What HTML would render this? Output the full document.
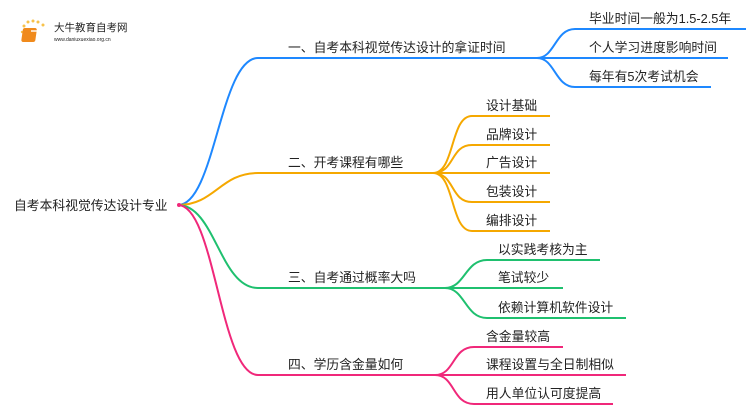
<!DOCTYPE html>
<html><head><meta charset="utf-8"><style>
body{margin:0;background:#fff;width:750px;height:410px;overflow:hidden}
svg text{font-family:"Liberation Sans","Noto Sans CJK SC",sans-serif;fill:#222}
</style></head><body>
<svg width="750" height="410" viewBox="0 0 750 410" xmlns="http://www.w3.org/2000/svg">
<g fill="#f7c24a"><circle cx="24" cy="26" r="1.5"/><circle cx="28" cy="22" r="1.5"/><circle cx="33" cy="21" r="1.5"/><circle cx="38" cy="22" r="1.5"/><circle cx="43" cy="25" r="1.5"/><circle cx="22" cy="32" r="1.2"/><circle cx="23" cy="38" r="1.2"/></g>
<rect x="27" y="28" width="14" height="14" rx="2" fill="#f08a1c" transform="skewX(-8)"/>
<rect x="31" y="30" width="8" height="2" fill="#fff" opacity=".7"/>
<text x="54" y="31" font-size="10.5">大牛教育自考网</text>
<text x="54" y="41" font-size="5" fill="#666">www.daniuxuexiao.org.cn</text>
<text x="14" y="210" font-size="12.8">自考本科视觉传达设计专业</text>
<g fill="none" stroke-width="2">
<path d="M178 205 C215 205 220 58 258 58 L537 58" stroke="#1e88ff"/>
<path d="M537 58 C555 58 555 29 575 29 L746 29 M537 58 L728 58 M537 58 C555 58 555 87 575 87 L711 87" stroke="#1e88ff"/>
<path d="M178 205 C215 205 220 173 258 173 L433 173" stroke="#f5a800"/>
<path d="M433 173 C455 173 450 116 472 116 L550 116 M433 173 C455 173 450 145 472 145 L550 145 M433 173 L550 173 M433 173 C455 173 450 202 472 202 L550 202 M433 173 C455 173 450 231 472 231 L550 231" stroke="#f5a800"/>
<path d="M178 205 C215 205 220 288 258 288 L445 288" stroke="#1fc06f"/>
<path d="M445 288 C465 288 465 260 487 260 L600 260 M445 288 L563 288 M445 288 C465 288 465 318 487 318 L626 318" stroke="#1fc06f"/>
<path d="M178 205 C215 205 220 375 258 375 L435 375" stroke="#f0287a"/>
<path d="M435 375 C455 375 452 347 474 347 L563 347 M435 375 L626 375 M435 375 C455 375 452 404 474 404 L613 404" stroke="#f0287a"/>
</g>
<circle cx="179" cy="205" r="2" fill="#f0287a"/>
<g font-size="12.8">
<text x="288" y="52">一、自考本科视觉传达设计的拿证时间</text>
<text x="589" y="23">毕业时间一般为1.5-2.5年</text>
<text x="589" y="52">个人学习进度影响时间</text>
<text x="589" y="81">每年有5次考试机会</text>
<text x="288" y="167">二、开考课程有哪些</text>
<text x="486" y="110">设计基础</text>
<text x="486" y="139">品牌设计</text>
<text x="486" y="167">广告设计</text>
<text x="486" y="196">包装设计</text>
<text x="486" y="225">编排设计</text>
<text x="288" y="282">三、自考通过概率大吗</text>
<text x="498" y="254">以实践考核为主</text>
<text x="498" y="282">笔试较少</text>
<text x="498" y="312">依赖计算机软件设计</text>
<text x="288" y="369">四、学历含金量如何</text>
<text x="486" y="341">含金量较高</text>
<text x="486" y="369">课程设置与全日制相似</text>
<text x="486" y="398">用人单位认可度提高</text>
</g>
</svg>
</body></html>
